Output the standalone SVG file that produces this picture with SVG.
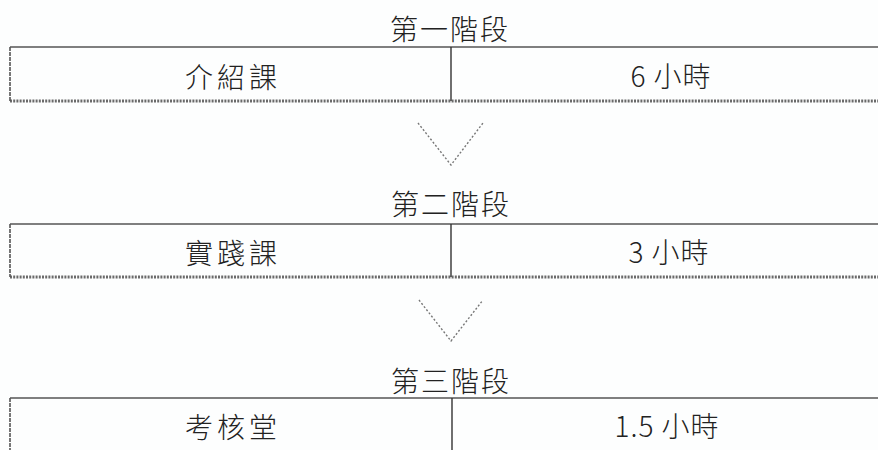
<svg xmlns="http://www.w3.org/2000/svg" width="878" height="450" viewBox="0 0 878 450">
<style>
.bg{fill:#fdfefe}
.t{font-family:"Noto Sans CJK TC","Noto Sans CJK SC",sans-serif;font-weight:300;fill:#222;text-anchor:middle;dominant-baseline:central}
.title{font-size:28px;letter-spacing:2px}
.cell{font-size:28px;letter-spacing:4px}
.num{font-size:28px;letter-spacing:1px}
.top{stroke:#555;stroke-width:1.6;fill:none}
.bot{stroke:#6a6a6a;stroke-width:3;stroke-dasharray:2 1.2;fill:none}
.side{stroke:#555;stroke-width:1.6;stroke-dasharray:4 1;fill:none}
.div{stroke:#333;stroke-width:1.4;fill:none}
.chev{stroke:#777;stroke-width:1.4;stroke-dasharray:2 2;fill:none}
</style>
<rect class="bg" x="0" y="0" width="878" height="450"/>

<g id="stage1">
  <text class="t title" x="450" y="28">第一階段</text>
  <line class="top" x1="10" y1="47" x2="878" y2="47"/>
  <line class="bot" x1="10" y1="101" x2="878" y2="101"/>
  <line class="side" x1="10" y1="47" x2="10" y2="101"/>
  <line class="div" x1="451" y1="47" x2="451" y2="101"/>
  <text class="t cell" x="233" y="76">介紹課</text>
  <text class="t num" x="671" y="75">6 小時</text>
</g>

<g id="stage2">
  <text class="t title" x="451" y="203">第二階段</text>
  <line class="top" x1="10" y1="224" x2="878" y2="224"/>
  <line class="bot" x1="10" y1="277" x2="878" y2="277"/>
  <line class="side" x1="10" y1="224" x2="10" y2="277"/>
  <line class="div" x1="451" y1="224" x2="451" y2="277"/>
  <text class="t cell" x="233" y="252">實踐課</text>
  <text class="t num" x="669" y="251">3 小時</text>
</g>

<g id="stage3">
  <text class="t title" x="451" y="380">第三階段</text>
  <line class="top" x1="10" y1="398" x2="878" y2="398"/>
  <line class="side" x1="10" y1="398" x2="10" y2="450"/>
  <line class="div" x1="452" y1="398" x2="452" y2="450"/>
  <text class="t cell" x="233" y="426">考核堂</text>
  <text class="t num" x="667" y="425">1.5 小時</text>
</g>

<g id="connectors">
  <polyline class="chev" points="418,123 451,165 483,123"/>
  <polyline class="chev" points="419,300 451,341 483,300"/>
</g>
</svg>
